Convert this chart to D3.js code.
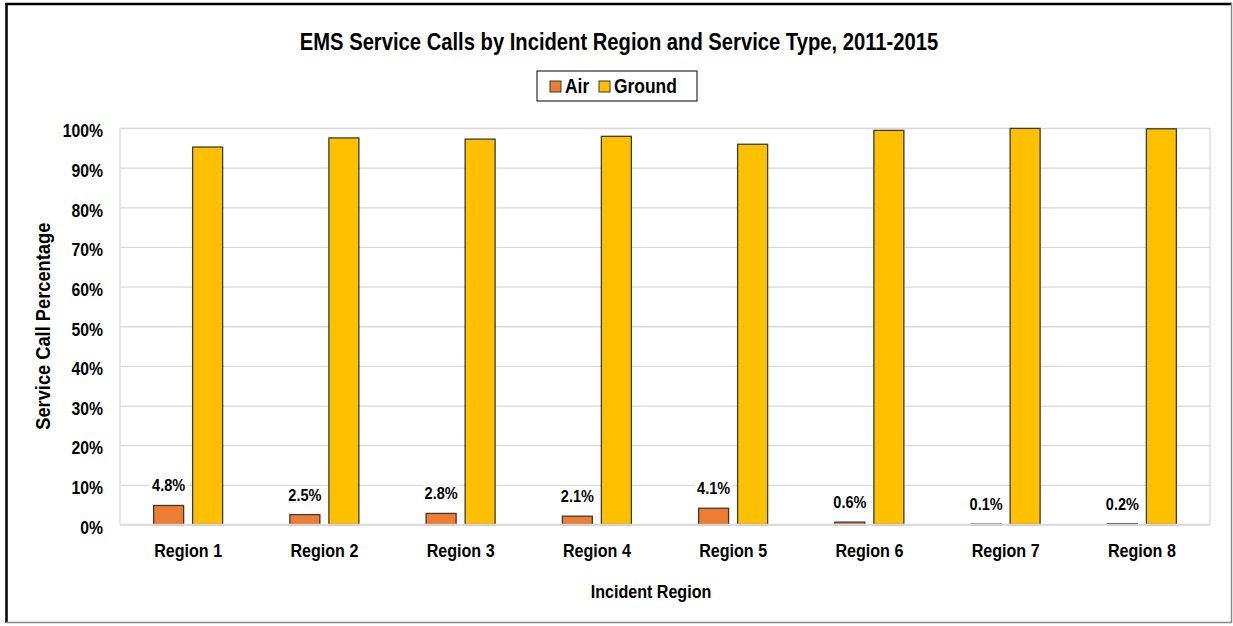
<!DOCTYPE html>
<html>
<head>
<meta charset="utf-8">
<script src="https://cdn.jsdelivr.net/npm/d3@7"></script>
<style>
  html, body { margin: 0; padding: 0; background: #fff; }
  svg { display: block; }
  text { font-family: "Liberation Sans", Arial, sans-serif; font-weight: bold; fill: #000; }
</style>
</head>
<body>
<svg id="chart" width="1233" height="626"></svg>
<script>
// ---- data ----
const categories = ["Region 1", "Region 2", "Region 3", "Region 4", "Region 5", "Region 6", "Region 7", "Region 8"];
const seriesNames = ["Air", "Ground"];
const airValues = [4.8, 2.5, 2.8, 2.1, 4.1, 0.6, 0.1, 0.2];
const groundValues = [95.2, 97.5, 97.2, 97.9, 95.9, 99.4, 99.9, 99.8];
const yTicks = [0, 10, 20, 30, 40, 50, 60, 70, 80, 90, 100];
const titleText = "EMS Service Calls by Incident Region and Service Type, 2011-2015";
const xTitle = "Incident Region";
const yTitle = "Service Call Percentage";
const colors = { Air: "#ED7D31", Ground: "#FFC000" };

const rows = categories.map((c, i) => ({ cat: c, Air: airValues[i], Ground: groundValues[i] }));

// ---- layout ----
const FONT = '"Liberation Sans", Arial, sans-serif';
const svg = d3.select("#chart");
const W = 1233, H = 626;
const plot = { left: 120, right: 1210, top: 128, bottom: 524.5 };

svg.append("rect").attr("x", 0).attr("y", 0).attr("width", W).attr("height", H).attr("fill", "#fff");
svg.append("line").attr("x1", 6.5).attr("x2", 6.5).attr("y1", 3).attr("y2", 623).attr("stroke", "#000").attr("stroke-width", 2.5);
svg.append("line").attr("x1", 5.5).attr("x2", 1232).attr("y1", 4).attr("y2", 4).attr("stroke", "#000").attr("stroke-width", 2.5);
svg.append("line").attr("x1", 1231.5).attr("x2", 1231.5).attr("y1", 3).attr("y2", 623).attr("stroke", "#8a8a8a").attr("stroke-width", 1.5);
svg.append("line").attr("x1", 5.5).attr("x2", 1232).attr("y1", 622.5).attr("y2", 622.5).attr("stroke", "#8a8a8a").attr("stroke-width", 1.5);

const x0 = d3.scaleBand().domain(categories).range([plot.left, plot.right]).paddingInner(0.4936).paddingOuter(0.2468);
const x1 = d3.scaleBand().domain(seriesNames).range([0, x0.bandwidth()]).paddingInner(0.2308).paddingOuter(0);
const y = d3.scaleLinear().domain([0, 100]).range([plot.bottom, plot.top]);

const grid = svg.append("g").attr("transform", `translate(${plot.left},0)`)
  .call(d3.axisLeft(y).tickValues(yTicks).tickSize(-(plot.right - plot.left)).tickFormat(""));
grid.select(".domain").remove();
grid.selectAll("line").attr("stroke", "#d9d9d9").attr("stroke-width", 1.3);

svg.append("line").attr("x1", plot.left).attr("x2", plot.left).attr("y1", plot.top).attr("y2", plot.bottom).attr("stroke", "#d9d9d9").attr("stroke-width", 1.3);
svg.append("line").attr("x1", plot.right).attr("x2", plot.right).attr("y1", plot.top).attr("y2", plot.bottom).attr("stroke", "#d9d9d9").attr("stroke-width", 1.3);

const yAxis = svg.append("g").attr("transform", `translate(${plot.left - 17},0)`)
  .call(d3.axisLeft(y).tickValues(yTicks).tickSize(0).tickPadding(0).tickFormat(d => d + "%"));
yAxis.select(".domain").remove();
yAxis.selectAll("text").attr("font-size", 17.5).attr("font-family", FONT).attr("font-weight", "bold").attr("fill", "#000")
  .attr("dy", "0.5em").attr("transform", "scale(0.9,1)");

const xAxis = svg.append("g").attr("transform", `translate(0,${plot.bottom + 14})`)
  .call(d3.axisBottom(x0).tickSize(0).tickPadding(0));
xAxis.select(".domain").remove();
xAxis.selectAll("text").attr("font-size", 18.5).attr("font-family", FONT).attr("font-weight", "bold").attr("fill", "#000")
  .attr("dy", "1em").attr("transform", "scale(0.87,1)");

const groups = svg.append("g").selectAll("g").data(rows).join("g")
  .attr("transform", d => `translate(${x0(d.cat)},0)`);
groups.selectAll("rect").data(d => seriesNames.map(s => ({ s, v: d[s] }))).join("rect")
  .attr("x", d => x1(d.s))
  .attr("width", x1.bandwidth())
  .attr("y", d => y(d.v))
  .attr("height", d => y(0) - y(d.v))
  .attr("fill", d => colors[d.s])
  .attr("stroke", "#3b3b3b")
  .attr("stroke-width", 1.3);

const labels = svg.append("g").selectAll("g").data(rows).join("g")
  .attr("transform", d => `translate(${x0(d.cat) + x1("Air") + x1.bandwidth() / 2},${y(d.Air) - 14})`);
labels.append("rect").attr("x", -19).attr("y", -14).attr("width", 38).attr("height", 17).attr("fill", "#fff");
labels.append("text").attr("text-anchor", "middle").attr("font-size", 16.5).attr("transform", "scale(0.88,1)")
  .text(d => d.Air.toFixed(1) + "%");

svg.append("line").attr("x1", plot.left).attr("x2", plot.right).attr("y1", y(0)).attr("y2", y(0)).attr("stroke", "#d9d9d9").attr("stroke-width", 1.5);

svg.append("text").attr("transform", "translate(619,50) scale(0.86,1)").attr("text-anchor", "middle").attr("font-size", 23.5).text(titleText);
svg.append("text").attr("transform", "translate(651,598) scale(0.87,1)").attr("text-anchor", "middle").attr("font-size", 18.5).text(xTitle);
svg.append("text").attr("transform", `translate(50,${(plot.top + plot.bottom) / 2}) rotate(-90) scale(0.87,1)`).attr("text-anchor", "middle").attr("font-size", 21).text(yTitle);

const lg = svg.append("g").attr("transform", "translate(537,71)");
lg.append("rect").attr("width", 160).attr("height", 30).attr("fill", "#fff").attr("stroke", "#000").attr("stroke-width", 1);
const li = lg.selectAll("g.item").data(seriesNames).join("g").attr("class", "item")
  .attr("transform", (d, i) => `translate(${i === 0 ? 13 : 62},0)`);
li.append("rect").attr("x", 0).attr("y", 10).attr("width", 11).attr("height", 11).attr("fill", d => colors[d]).attr("stroke", "#3b3b3b").attr("stroke-width", 1);
li.append("text").attr("transform", "translate(15,22) scale(0.87,1)").attr("font-size", 20).text(d => d);
</script>
</body>
</html>
